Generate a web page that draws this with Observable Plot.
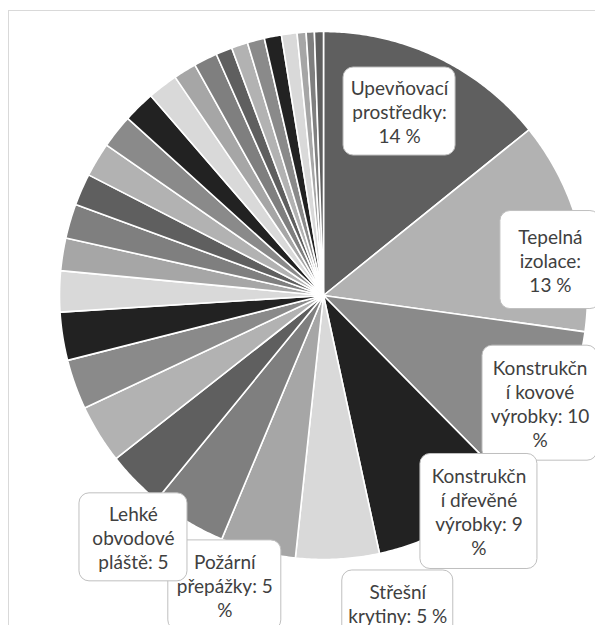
<!DOCTYPE html>
<html>
<head>
<meta charset="utf-8">
<script src="https://cdn.jsdelivr.net/npm/d3@7"></script>
<script src="https://cdn.jsdelivr.net/npm/@observablehq/plot@0.6"></script>
<style>
  html, body { margin: 0; padding: 0; background: #ffffff; overflow: hidden; }
  #wrap { position: relative; width: 595px; height: 625px; overflow: hidden; }
  #frame { position: absolute; left: 8px; top: 10px; width: 800px; height: 800px;
           border: 1px solid #d9d9d9; box-sizing: border-box; pointer-events: none; }
  #chart { position: absolute; left: 0; top: 0; }
</style>
</head>
<body>
<div id="wrap"><div id="frame"></div><div id="chart"></div></div>
<script>
// ---------- data ----------
const categories = [
  "Upevňovací prostředky",
  "Tepelná izolace",
  "Konstrukční kovové výrobky",
  "Konstrukční dřevěné výrobky",
  "Střešní krytiny",
  "Požární přepážky",
  "Lehké obvodové pláště",
  "Ostatní 1", "Ostatní 2", "Ostatní 3", "Ostatní 4", "Ostatní 5", "Ostatní 6",
  "Ostatní 7", "Ostatní 8", "Ostatní 9", "Ostatní 10", "Ostatní 11", "Ostatní 12",
  "Ostatní 13", "Ostatní 14", "Ostatní 15", "Ostatní 16", "Ostatní 17", "Ostatní 18",
  "Ostatní 19", "Ostatní 20", "Ostatní 21", "Ostatní 22"
];
const values = [
  14.2, 13.0, 10.4, 9.0, 5.1, 4.6, 4.6,
  3.5, 3.6, 3.05, 2.95, 2.5, 2.0, 2.1, 1.95, 2.1, 2.05, 1.95, 1.85,
  1.4, 1.45, 1.0, 1.0, 1.05, 1.05, 0.95, 0.55, 0.5, 0.55
];
// slices that carry a data label (index into categories)
const labeledIdx = [0, 1, 2, 3, 4, 5, 6];
// where the label text wraps (character positions) and how many lines are visible
const labelBreaks = [[10, 22], [7, 16], [10, 18, 30], [10, 19, 30], [7], [7, 19], [5, 14, 24]];
const labelMaxLines = [3, 3, 4, 4, 2, 3, 3];

// ---------- styling / layout ----------
const palette = ["#5f5f5f", "#b2b2b2", "#8a8a8a", "#222222", "#d9d9d9", "#a6a6a6", "#7f7f7f"];
// label box placement: angle shift from slice mid-angle (deg), radius (x pie radius), box size (px)
const labelPlacement = [
  {shift: -3.1, r: 0.754, w: 112, h: 88},
  {shift: 6.6,  r: 0.870, w: 100, h: 98},
  {shift: -0.2, r: 0.916, w: 115, h: 115},
  {shift: -7.3, r: 1.008, w: 117, h: 115},
  {shift: -10.5, r: 1.200, w: 111, h: 66},
  {shift: 4.4,  r: 1.160, w: 113, h: 90},
  {shift: 7.2,  r: 1.165, w: 108, h: 88}
];
const W = 595, H = 625, CX = 323, CY = 295, R = 264;

// ---------- build ----------
const total = d3.sum(values);
const arcs = d3.pie().sort(null).value(d => d)(values);

const slicePts = [];
arcs.forEach((a, i) => {
  const color = palette[i % palette.length];
  slicePts.push({i, x: 0, y: 0, c: color});
  const n = Math.max(2, Math.ceil((a.endAngle - a.startAngle) / (Math.PI / 360)));
  for (let k = 0; k <= n; k++) {
    const t = a.startAngle + (a.endAngle - a.startAngle) * k / n;
    slicePts.push({i, x: Math.sin(t), y: Math.cos(t), c: color});
  }
  slicePts.push({i, x: 0, y: 0, c: color});
});

function wrap(str, breaks) {
  const lines = [];
  let prev = 0;
  for (const b of breaks) { lines.push(str.slice(prev, b).trim()); prev = b; }
  lines.push(str.slice(prev).trim());
  return lines;
}

const labels = labeledIdx.map((idx, j) => {
  const a = arcs[idx];
  const pct = Math.round(values[idx] / total * 100);
  const full = `${categories[idx]}: ${pct} %`;
  const lines = wrap(full, labelBreaks[j]).slice(0, labelMaxLines[j]);
  const p = labelPlacement[j];
  const ang = (a.startAngle + a.endAngle) / 2 + p.shift * Math.PI / 180;
  const x = Math.sin(ang) * p.r, y = Math.cos(ang) * p.r;
  const hw = p.w / 2 / R, hh = p.h / 2 / R;
  return {x, y, x1: x - hw, x2: x + hw, y1: y - hh, y2: y + hh, t: lines.join("\n")};
});

const chart = Plot.plot({
  width: W,
  height: H,
  margin: 0,
  x: {domain: [-CX / R, (W - CX) / R], axis: null},
  y: {domain: [-(H - CY) / R, CY / R], axis: null},
  color: {type: "identity"},
  style: {background: "transparent", overflow: "hidden"},
  marks: [
    Plot.line(slicePts, {x: "x", y: "y", z: "i", fill: "c", stroke: "#ffffff", strokeWidth: 1.6,
                         strokeLinejoin: "round"}),
    Plot.rect(labels, {x1: "x1", x2: "x2", y1: "y1", y2: "y2", fill: "#ffffff",
                       stroke: "#bfbfbf", strokeWidth: 1, rx: 10}),
    Plot.text(labels, {x: "x", y: "y", text: "t", fontSize: 19, fontFamily: "Lato",
                       fill: "#404040", lineHeight: 1.27, lineAnchor: "middle", textAnchor: "middle"})
  ]
});
document.getElementById("chart").appendChild(chart);
</script>
</body>
</html>
